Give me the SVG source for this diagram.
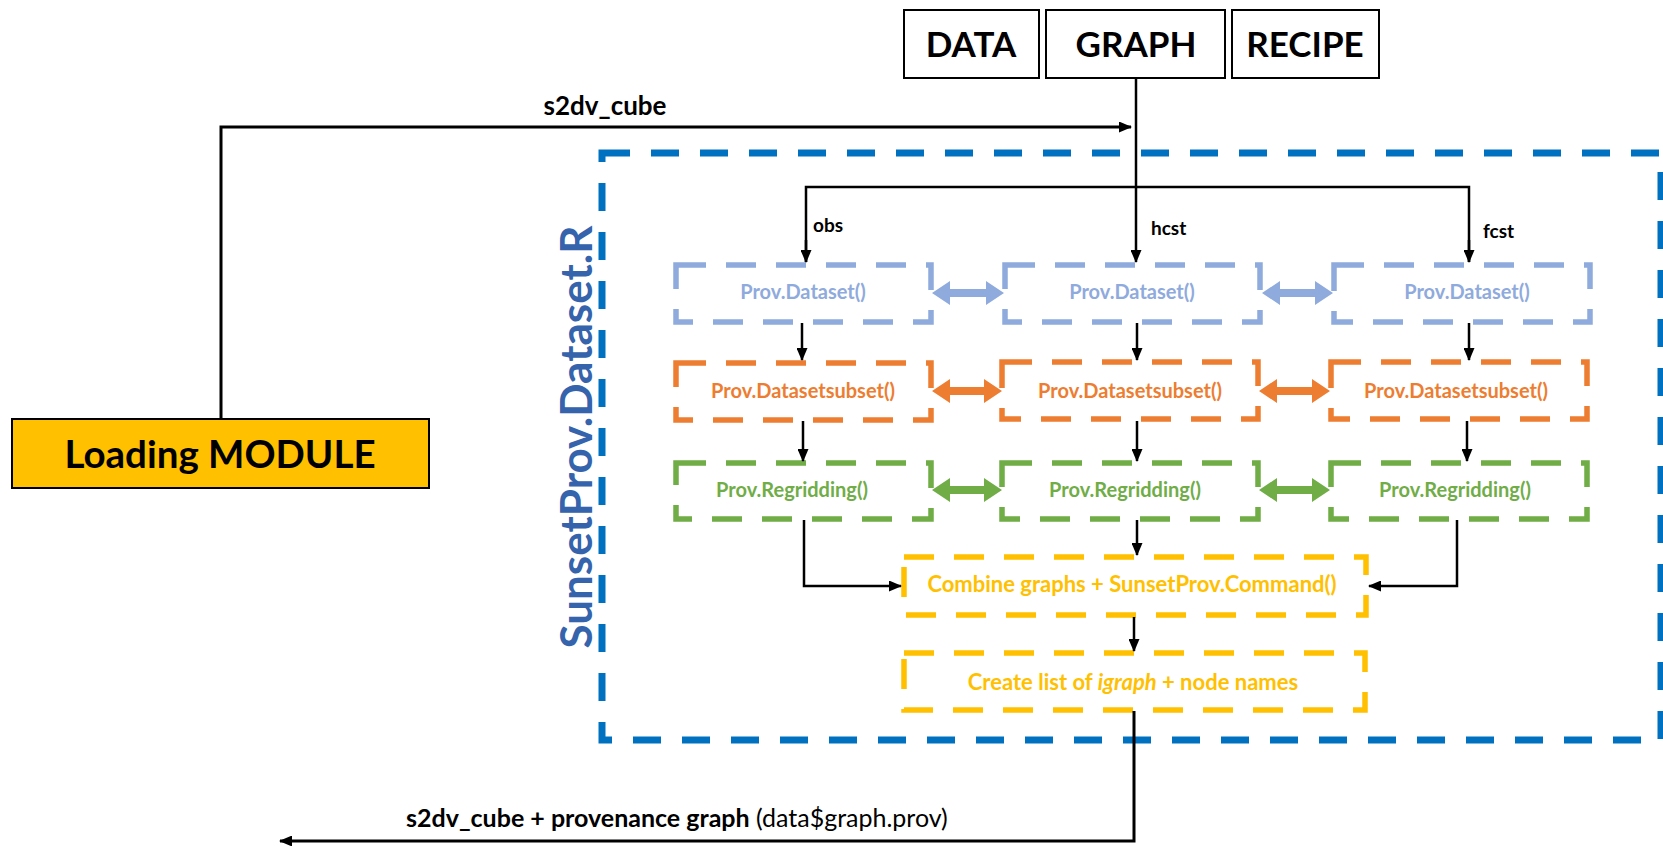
<svg xmlns="http://www.w3.org/2000/svg" width="1663" height="846" viewBox="0 0 1663 846">
  <defs>
    <marker id="ah" viewBox="0 0 13 11" refX="12" refY="5.5" markerWidth="13" markerHeight="11" markerUnits="userSpaceOnUse" orient="auto">
      <path d="M0,0 L13,5.5 L0,11 Z" fill="#000"/>
    </marker>
    <style>
      .lbl { font-family: Lato, "Open Sans", "Liberation Sans", sans-serif; font-weight: 700; }
      .hdr { fill: #fff; stroke: #000; stroke-width: 2; }
      .hdrt { font-size: 35px; fill: #000; text-anchor: middle; }
      .wire { fill: none; stroke: #000; stroke-width: 2.5; }
      .wire2 { fill: none; stroke: #000; stroke-width: 3; }
      .box { fill: none; stroke-width: 5.5; stroke-dasharray: 30 20; }
      .fn { font-size: 20px; text-anchor: middle; }
      .blue { stroke: #8FAADC; }
      .orange { stroke: #ED7D31; }
      .green { stroke: #70AD47; }
      .yellow { stroke: #FFC000; }
      .tblue { fill: #8FAADC; }
      .torange { fill: #ED7D31; }
      .tgreen { fill: #70AD47; }
      .tyellow { fill: #FFC000; }
      .port { font-size: 19px; fill: #000; }
    </style>
  </defs>

  <rect width="1663" height="846" fill="#fff"/>

  <!-- SunsetProv.Dataset.R container -->
  <g id="container">
    <rect x="602" y="153" width="1059" height="587" fill="none" stroke="#0070C0" stroke-width="7" stroke-dasharray="28 21"/>
    <text class="lbl" transform="translate(592,437) rotate(-90)" font-size="44" font-weight="800" fill="#3563AC" text-anchor="middle">SunsetProv.Dataset.R</text>
  </g>

  <!-- header boxes -->
  <g id="data">
    <rect class="hdr" x="904" y="10" width="135" height="68"/>
    <text class="lbl hdrt" x="971" y="57">DATA</text>
  </g>
  <g id="graph">
    <rect class="hdr" x="1046" y="10" width="179" height="68"/>
    <text class="lbl hdrt" x="1136" y="57">GRAPH</text>
  </g>
  <g id="recipe">
    <rect class="hdr" x="1232" y="10" width="147" height="68"/>
    <text class="lbl hdrt" x="1305" y="57">RECIPE</text>
  </g>

  <g id="loading-module">
    <rect x="12" y="419" width="417" height="69" fill="#FFC000" stroke="#000" stroke-width="2"/>
    <text class="lbl" x="220" y="468" font-size="38.5" fill="#000" text-anchor="middle">Loading MODULE</text>
  </g>

  <!-- obs column -->
  <g id="obs-dataset">
    <rect class="box blue" x="676" y="265" width="255" height="57"/>
    <text class="lbl fn tblue" x="803" y="299">Prov.Dataset()</text>
  </g>
  <g id="obs-subset">
    <rect class="box orange" x="676" y="363" width="255" height="57"/>
    <text class="lbl fn torange" x="803" y="398">Prov.Datasetsubset()</text>
  </g>
  <g id="obs-regrid">
    <rect class="box green" x="676" y="463" width="255" height="56"/>
    <text class="lbl fn tgreen" x="792" y="497">Prov.Regridding()</text>
  </g>

  <!-- hcst column -->
  <g id="hcst-dataset">
    <rect class="box blue" x="1005" y="265" width="255" height="57"/>
    <text class="lbl fn tblue" x="1132" y="299">Prov.Dataset()</text>
  </g>
  <g id="hcst-subset">
    <rect class="box orange" x="1002" y="362" width="256" height="57"/>
    <text class="lbl fn torange" x="1130" y="398">Prov.Datasetsubset()</text>
  </g>
  <g id="hcst-regrid">
    <rect class="box green" x="1002" y="463" width="256" height="56"/>
    <text class="lbl fn tgreen" x="1125" y="497">Prov.Regridding()</text>
  </g>

  <!-- fcst column -->
  <g id="fcst-dataset">
    <rect class="box blue" x="1334" y="265" width="256" height="57"/>
    <text class="lbl fn tblue" x="1467" y="299">Prov.Dataset()</text>
  </g>
  <g id="fcst-subset">
    <rect class="box orange" x="1331" y="362" width="256" height="57"/>
    <text class="lbl fn torange" x="1456" y="398">Prov.Datasetsubset()</text>
  </g>
  <g id="fcst-regrid">
    <rect class="box green" x="1331" y="463" width="256" height="56"/>
    <text class="lbl fn tgreen" x="1455" y="497">Prov.Regridding()</text>
  </g>

  <!-- merge steps -->
  <g id="combine">
    <rect class="box yellow" x="904" y="557" width="462" height="58"/>
    <text class="lbl tyellow" x="1132" y="592" font-size="22" text-anchor="middle">Combine graphs + SunsetProv.Command()</text>
  </g>
  <g id="create-list">
    <rect class="box yellow" x="904" y="653" width="461" height="57"/>
    <text class="lbl tyellow" x="1133" y="690" font-size="22" text-anchor="middle">Create list of <tspan font-style="italic">igraph</tspan> + node names</text>
  </g>

  <!-- connectors -->
  <g id="connectors">
    <!-- loading module to graph -->
    <path class="wire2" d="M221,419 V127 H1131" marker-end="url(#ah)"/>
    <text class="lbl" x="605" y="115" font-size="26" fill="#000" text-anchor="middle">s2dv_cube</text>

    <!-- graph split into obs / hcst / fcst -->
    <path class="wire" d="M1136,78 V262" marker-end="url(#ah)"/>
    <path class="wire" d="M806,262 V187 H1469 V262" />
    <path class="wire" d="M806,240 V262" marker-end="url(#ah)"/>
    <path class="wire" d="M1469,240 V262" marker-end="url(#ah)"/>
    <text class="lbl port" x="813" y="232">obs</text>
    <text class="lbl port" x="1151" y="235">hcst</text>
    <text class="lbl port" x="1483" y="238">fcst</text>

    <!-- row to row -->
    <path class="wire" d="M802,323 V360" marker-end="url(#ah)"/>
    <path class="wire" d="M1137,323 V360" marker-end="url(#ah)"/>
    <path class="wire" d="M1469,323 V360" marker-end="url(#ah)"/>
    <path class="wire" d="M803,421 V461" marker-end="url(#ah)"/>
    <path class="wire" d="M1137,421 V461" marker-end="url(#ah)"/>
    <path class="wire" d="M1467,421 V461" marker-end="url(#ah)"/>

    <!-- into combine -->
    <path class="wire" d="M804,520 V586 H901" marker-end="url(#ah)"/>
    <path class="wire" d="M1137,520 V555" marker-end="url(#ah)"/>
    <path class="wire" d="M1457,520 V586 H1369" marker-end="url(#ah)"/>
    <path class="wire" d="M1134,617 V651" marker-end="url(#ah)"/>

    <!-- output -->
    <path class="wire2" d="M1134,711 V841 H280" marker-end="url(#ah)"/>
    <text x="406" y="827" font-size="25" fill="#000" font-family="Lato, 'Open Sans', 'Liberation Sans', sans-serif"><tspan font-weight="700">s2dv_cube + provenance graph</tspan> (data$graph.prov)</text>

    <!-- peer links between columns -->
    <path fill="#8FAADC" d="M932,293 l18,-12 v8 h36 v-8 l18,12 l-18,12 v-8 h-36 v8 Z"/>
    <path fill="#8FAADC" d="M1262,293 l18,-12 v8 h35 v-8 l18,12 l-18,12 v-8 h-35 v8 Z"/>
    <path fill="#ED7D31" d="M932,391 l18,-12 v8 h34 v-8 l18,12 l-18,12 v-8 h-34 v8 Z"/>
    <path fill="#ED7D31" d="M1259,391 l18,-12 v8 h35 v-8 l18,12 l-18,12 v-8 h-35 v8 Z"/>
    <path fill="#70AD47" d="M932,490 l18,-12 v8 h34 v-8 l18,12 l-18,12 v-8 h-34 v8 Z"/>
    <path fill="#70AD47" d="M1259,490 l18,-12 v8 h35 v-8 l18,12 l-18,12 v-8 h-35 v8 Z"/>
  </g>
</svg>
